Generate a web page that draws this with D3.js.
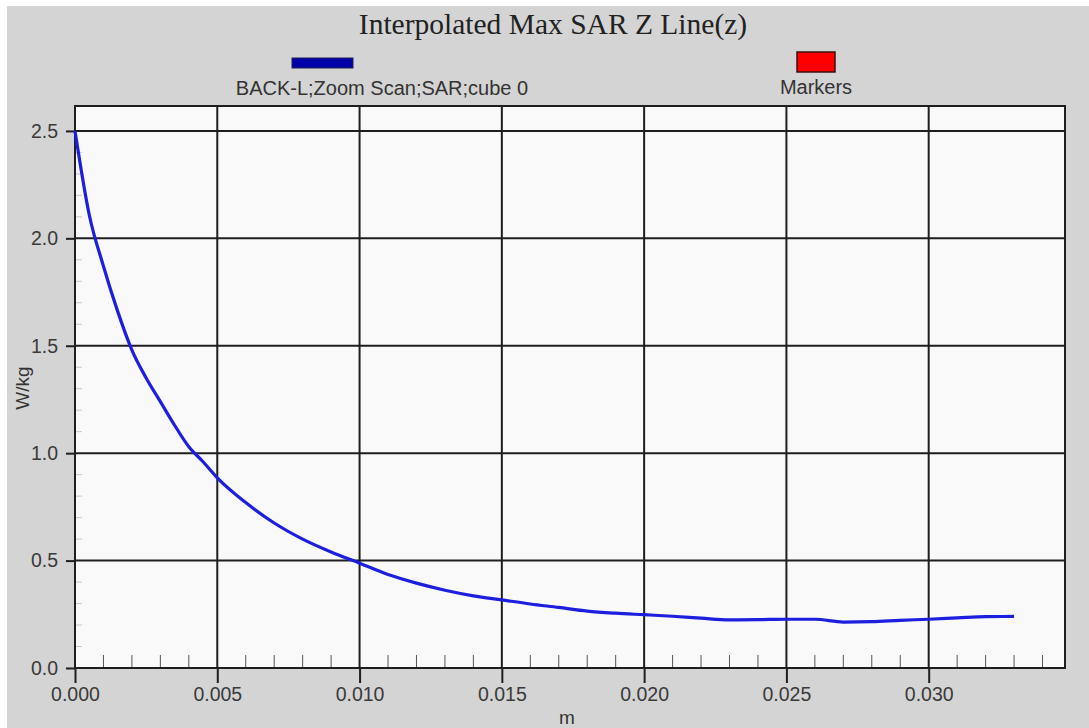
<!DOCTYPE html>
<html>
<head>
<meta charset="utf-8">
<script src="https://cdn.jsdelivr.net/npm/d3@7"></script>
<style>
  body { margin: 0; background: #ffffff; }
  text { font-family: "Liberation Sans", Arial, sans-serif; }
</style>
</head>
<body>
<div id="chart"></div>
<script>
// distance (m) and interpolated SAR (W/kg)
const depth = [0, 0.0005, 0.001, 0.0015, 0.002, 0.0025, 0.003, 0.0035, 0.004, 0.0045, 0.005,
  0.006, 0.007, 0.008, 0.009, 0.010, 0.011, 0.012, 0.013, 0.014, 0.015, 0.016, 0.017, 0.018,
  0.019, 0.020, 0.021, 0.022, 0.023, 0.024, 0.025, 0.026, 0.027, 0.028, 0.029, 0.030, 0.031,
  0.032, 0.033];
const sar = [2.50, 2.11, 1.87, 1.66, 1.48, 1.35, 1.24, 1.13, 1.03, 0.96, 0.885,
  0.77, 0.675, 0.60, 0.54, 0.488, 0.435, 0.395, 0.362, 0.336, 0.317, 0.298, 0.282, 0.265,
  0.255, 0.248, 0.241, 0.232, 0.224, 0.225, 0.227, 0.227, 0.214, 0.216, 0.222, 0.227, 0.233,
  0.239, 0.24];

const xTicks = [0, 0.005, 0.010, 0.015, 0.020, 0.025, 0.030];
const yTicks = [0, 0.5, 1.0, 1.5, 2.0, 2.5];
const xMinor = d3.range(1, 35).map(i => i / 1000);
const yMinor = d3.range(1, 26).map(i => i / 10);

const titleText = "Interpolated Max SAR Z Line(z)";
const seriesName = "BACK-L;Zoom Scan;SAR;cube 0";
const markerName = "Markers";

const width = 1089, height = 728;
const plot = {left: 75, right: 1065, top: 106, bottom: 668};

const svg = d3.select("#chart")
  .append("svg")
  .attr("width", width)
  .attr("height", height);

// gray panel (white strip left/top like the screenshot)
svg.append("rect")
  .attr("x", 7).attr("y", 6)
  .attr("width", width - 7).attr("height", height - 6)
  .attr("fill", "#d4d4d4");

const x = d3.scaleLinear().domain([0, 0.03479]).range([plot.left, plot.right]);
const y = d3.scaleLinear().domain([0, 2.616]).range([plot.bottom, plot.top]);

svg.append("rect")
  .attr("x", plot.left).attr("y", plot.top)
  .attr("width", plot.right - plot.left)
  .attr("height", plot.bottom - plot.top)
  .attr("fill", "#f9f9f9");

// light minor ticks on the left, inside
svg.append("g")
  .selectAll("line")
  .data(yMinor.filter(d => Math.round(d * 10) % 5 != 0))
  .enter().append("line")
  .attr("x1", plot.left).attr("x2", plot.left + 7)
  .attr("y1", d => y(d)).attr("y2", d => y(d))
  .attr("stroke", "#c8c8c8").attr("stroke-width", 1);

// minor ticks at the bottom, pointing up
svg.append("g")
  .selectAll("line")
  .data(xMinor.filter(d => Math.round(d * 1000) % 5 != 0))
  .enter().append("line")
  .attr("x1", d => x(d)).attr("x2", d => x(d))
  .attr("y1", plot.bottom).attr("y2", plot.bottom - 13)
  .attr("stroke", "#555").attr("stroke-width", 1);

// grid
svg.append("g")
  .selectAll("line")
  .data(xTicks.slice(1))
  .enter().append("line")
  .attr("x1", d => x(d)).attr("x2", d => x(d))
  .attr("y1", plot.top).attr("y2", plot.bottom)
  .attr("stroke", "#1e1e1e").attr("stroke-width", 2);

svg.append("g")
  .selectAll("line")
  .data(yTicks.slice(1))
  .enter().append("line")
  .attr("x1", plot.left).attr("x2", plot.right)
  .attr("y1", d => y(d)).attr("y2", d => y(d))
  .attr("stroke", "#1e1e1e").attr("stroke-width", 2);

// axes
const xAxis = svg.append("g")
  .attr("transform", `translate(0,${plot.bottom})`)
  .call(d3.axisBottom(x).tickValues(xTicks).tickFormat(d3.format(".3f")).tickSize(15).tickPadding(1));

const yAxis = svg.append("g")
  .attr("transform", `translate(${plot.left},0)`)
  .call(d3.axisLeft(y).tickValues(yTicks).tickFormat(d3.format(".1f")).tickSize(9).tickPadding(8));

[xAxis, yAxis].forEach(a => {
  a.select(".domain").remove();
  a.selectAll("line").attr("stroke", "#1e1e1e").attr("stroke-width", 2);
  a.selectAll("text")
    .attr("fill", "#3a3a3a")
    .style("font-size", "19.5px")
    .style("font-family", "Liberation Sans, Arial, sans-serif");
});
xAxis.selectAll("text").attr("dy", "0.85em");

// frame
svg.append("rect")
  .attr("x", plot.left).attr("y", plot.top)
  .attr("width", plot.right - plot.left)
  .attr("height", plot.bottom - plot.top)
  .attr("fill", "none")
  .attr("stroke", "#1e1e1e").attr("stroke-width", 2);

// the curve
const line = d3.line()
  .x((d, i) => x(depth[i]))
  .y(d => y(d))
  .curve(d3.curveMonotoneX);

svg.append("path")
  .datum(sar)
  .attr("d", line)
  .attr("fill", "none")
  .attr("stroke", "#1e1ede")
  .attr("stroke-width", 3.2)
  .attr("stroke-linejoin", "round");

// title
svg.append("text")
  .attr("x", 553).attr("y", 34)
  .attr("text-anchor", "middle")
  .style("font-family", "Liberation Serif, Times New Roman, serif")
  .style("font-size", "29.5px")
  .attr("fill", "#222")
  .text(titleText);

// legend
svg.append("rect")
  .attr("x", 292).attr("y", 58).attr("width", 61).attr("height", 10)
  .attr("fill", "#0000a8").attr("stroke", "#202050").attr("stroke-width", 1);
svg.append("text")
  .attr("x", 382).attr("y", 95)
  .attr("text-anchor", "middle")
  .style("font-size", "20px")
  .attr("fill", "#333")
  .text(seriesName);

svg.append("rect")
  .attr("x", 797).attr("y", 52).attr("width", 38).attr("height", 20)
  .attr("fill", "#ff0000").attr("stroke", "#3a1010").attr("stroke-width", 1.5);
svg.append("text")
  .attr("x", 816).attr("y", 94)
  .attr("text-anchor", "middle")
  .style("font-size", "20px")
  .attr("fill", "#333")
  .text(markerName);

// axis titles
svg.append("text")
  .attr("x", 567).attr("y", 724)
  .attr("text-anchor", "middle")
  .style("font-size", "19px")
  .attr("fill", "#333")
  .text("m");

svg.append("text")
  .attr("transform", "translate(29,388) rotate(-90)")
  .attr("text-anchor", "middle")
  .style("font-size", "19px")
  .attr("fill", "#333")
  .text("W/kg");
</script>
</body>
</html>
